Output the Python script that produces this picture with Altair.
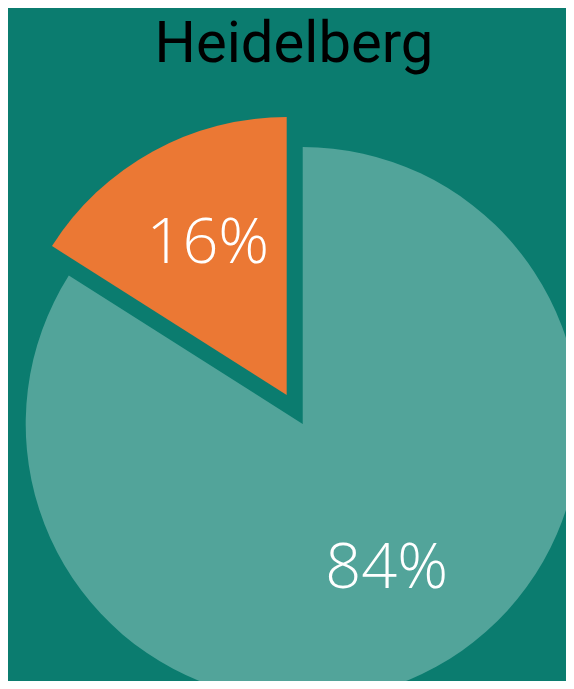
import altair as alt
import pandas as pd

# data
categories = ["Rest", "Heidelberg"]
values = [84, 16]
labels = ["84%", "16%"]
title_text = "Heidelberg"

BG = "#0b7c6f"
LIGHT = "#52a49a"
ORANGE = "#eb7834"

df = pd.DataFrame({"cat": categories, "value": values, "label": labels, "idx": [0, 1]})

base = (
    alt.Chart(df)
    .transform_window(cum="sum(value)", sort=[alt.SortField("idx")])
    .transform_calculate(start="datum.cum - datum.value", mid="datum.cum - datum.value/2")
)

theta_scale = alt.Scale(domain=[0, 100])
color_scale = alt.Scale(domain=categories, range=[LIGHT, ORANGE])

# page margin is 8px, so positions are shifted by -8
CX, CY = 294.7, 416
DX, DY = -16, -29

big = base.transform_filter(alt.datum.cat == "Rest").mark_arc(
    x=CX, y=CY, outerRadius=277
).encode(
    theta=alt.Theta("start:Q", scale=theta_scale),
    theta2="cum:Q",
    color=alt.Color("cat:N", scale=color_scale, legend=None),
)

small = base.transform_filter(alt.datum.cat == "Heidelberg").mark_arc(
    x=CX + DX, y=CY + DY, outerRadius=278
).encode(
    theta=alt.Theta("start:Q", scale=theta_scale),
    theta2="cum:Q",
    color=alt.Color("cat:N", scale=color_scale, legend=None),
)

big_text = base.transform_filter(alt.datum.cat == "Rest").mark_text(
    x=CX, y=CY, radius=166, dx=4, fontSize=63, font="Open Sans", fontWeight=300,
    color="white", align="center", baseline="middle"
).encode(
    theta=alt.Theta("mid:Q", scale=theta_scale),
    text="label:N",
)

small_text = base.transform_filter(alt.datum.cat == "Heidelberg").mark_text(
    x=CX + DX, y=CY + DY, radius=172, dx=4, fontSize=63, font="Open Sans", fontWeight=300,
    color="white", align="center", baseline="middle"
).encode(
    theta=alt.Theta("mid:Q", scale=theta_scale),
    text="label:N",
)

title = alt.Chart(pd.DataFrame({"t": [title_text]})).mark_text(
    x=286, y=54, fontSize=58, font="Roboto", color="black",
    align="center", baseline="alphabetic"
).encode(text="t:N")

chart = (
    alt.layer(big, small, big_text, small_text, title)
    .properties(
        width=558, height=673, padding=0, autosize=alt.AutoSizeParams(type="none"),
        background=BG,
    )
    .configure_view(stroke=None)
)

chart.save("out.html", embed_options={"renderer": "svg", "actions": False})
